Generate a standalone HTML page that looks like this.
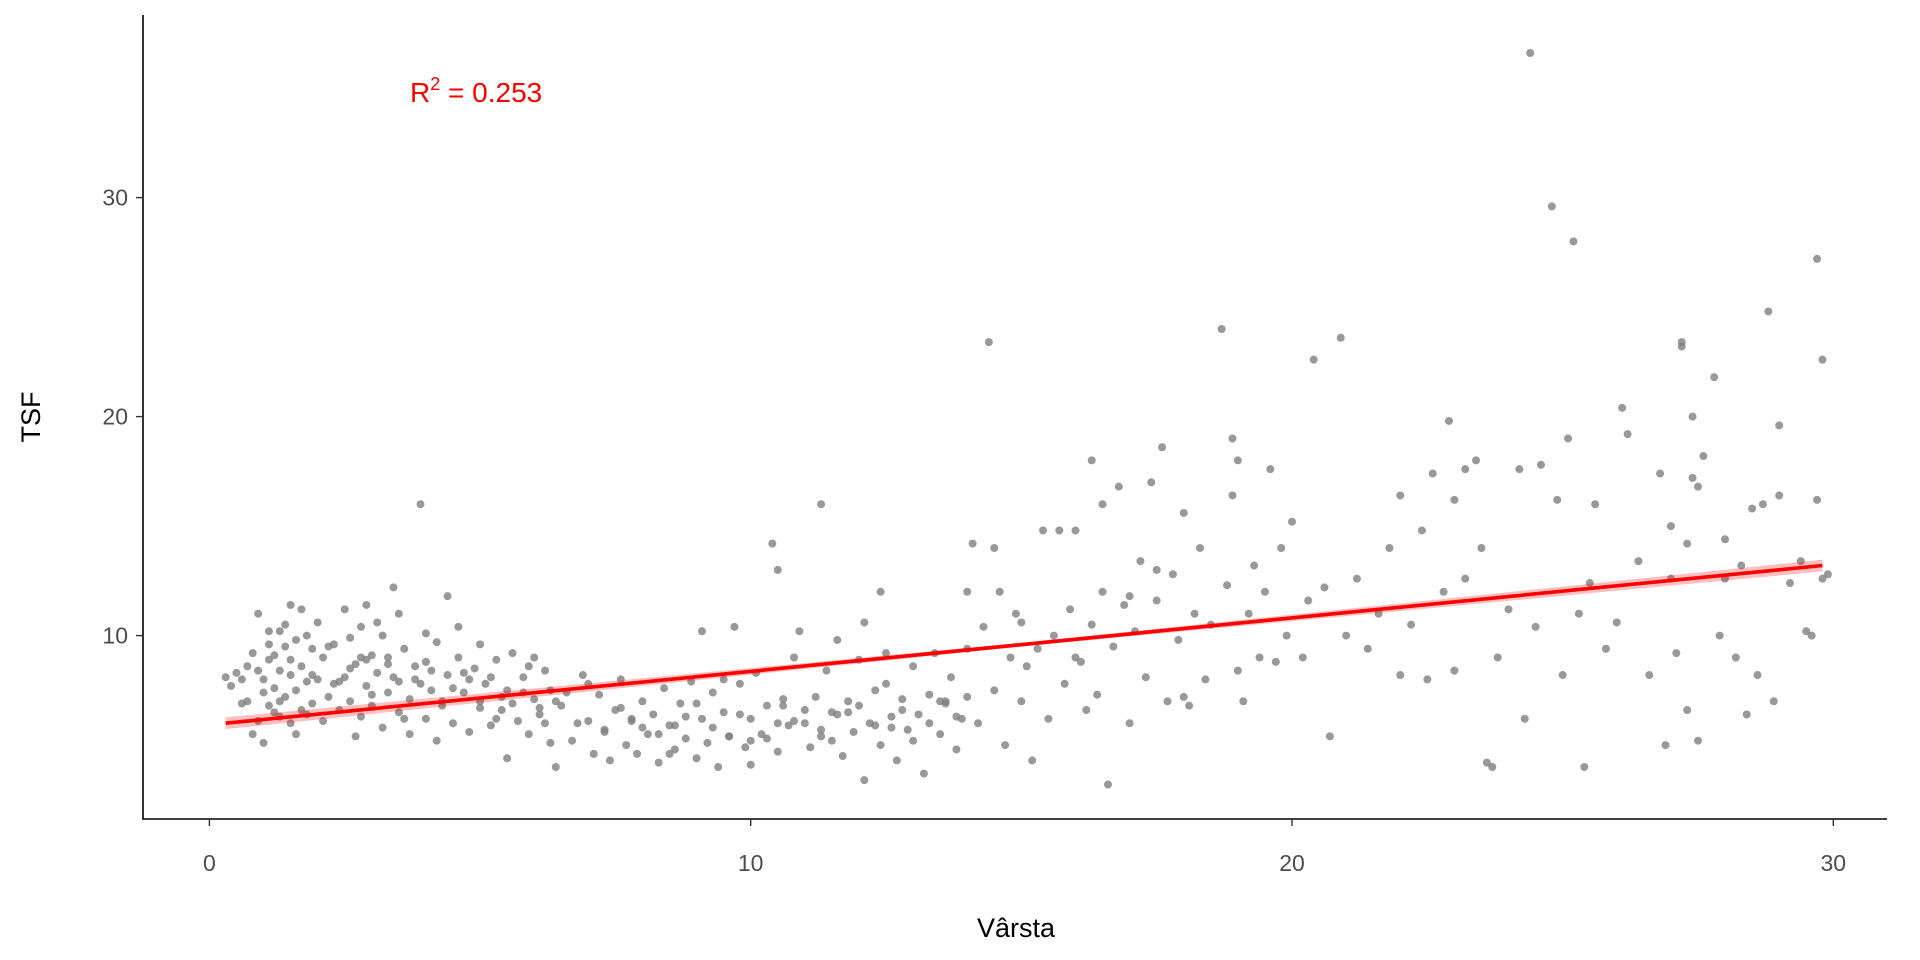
<!DOCTYPE html>
<html><head><meta charset="utf-8"><title>TSF vs Vârsta</title>
<style>
html,body{margin:0;padding:0;background:#fff;}
svg{display:block;font-family:"Liberation Sans",Arial,sans-serif;}
</style></head>
<body>
<svg id="chart" width="1920" height="960" viewBox="0 0 1920 960"></svg>
<script>
const xTicks=[0,10,20,30];
const yTicks=[10,20,30];
const ages=[0.3,0.5,0.6,0.7,0.7,0.8,0.8,0.9,0.9,1.0,1.0,1.0,1.1,1.1,1.1,1.2,1.2,1.3,1.3,1.3,1.4,1.4,1.5,1.5,1.5,1.6,1.6,1.6,1.7,1.7,1.8,1.8,1.9,1.9,2.0,2.0,2.1,2.2,2.3,2.4,2.5,2.5,2.6,2.6,2.7,2.7,2.8,2.8,2.9,2.9,3.0,3.0,3.1,3.2,3.2,3.3,3.3,3.4,3.4,3.5,3.5,3.6,3.7,3.7,3.8,3.9,3.9,4.0,4.0,4.1,4.2,4.2,4.3,4.4,4.4,4.5,4.6,4.6,4.7,4.8,4.9,5.0,5.0,5.1,5.2,5.3,5.4,5.5,5.5,5.6,5.7,5.8,5.9,6.0,6.0,6.1,6.2,6.3,6.3,6.4,6.5,
0.4,0.6,1.2,1.8,2.2,2.4,3.1,3.6,4.8,5.3,5.9,6.2,1.4,2.9,4.1,
0.9,1.1,1.3,1.5,1.7,1.9,2.1,2.3,2.6,2.8,3.0,3.3,3.5,3.8,4.0,4.3,4.5,4.7,5.0,5.2,5.4,5.6,5.8,6.1,6.4,
6.6,6.7,6.9,7.0,7.1,7.2,7.3,7.4,7.5,7.6,7.7,7.8,7.9,8.0,8.1,8.2,8.3,8.4,8.5,8.6,8.7,8.8,8.9,9.0,9.1,9.1,9.2,9.3,9.4,9.5,9.6,9.7,9.8,9.9,10.0,10.0,10.1,10.2,10.3,10.4,10.5,10.5,10.6,10.7,10.8,10.9,11.0,11.1,11.2,11.3,11.3,11.4,11.5,11.6,11.7,11.8,11.9,12.0,12.1,12.1,12.2,12.3,12.4,12.4,12.5,12.6,12.7,12.8,12.9,13.0,13.1,13.2,13.3,13.4,13.5,13.6,13.7,13.8,13.9,14.0,
7.0,8.0,8.5,9.0,9.5,10.0,10.5,11.0,11.5,12.0,12.5,13.0,13.5,14.0,14.0,
6.8,7.3,7.8,8.3,8.8,9.3,9.8,10.3,10.8,11.3,11.8,12.3,12.8,13.3,13.8,7.6,8.6,9.6,10.6,11.6,12.6,13.6,
14.1,14.2,14.3,14.4,14.5,14.6,14.7,14.8,14.9,15.0,15.1,15.2,15.3,15.4,15.5,15.6,15.7,15.8,15.9,16.0,16.1,16.2,16.3,16.3,16.4,16.5,16.6,16.7,16.8,16.9,17.0,17.1,17.2,17.3,17.4,17.5,17.6,17.7,17.8,17.9,18.0,18.1,18.2,18.3,18.4,18.5,18.7,18.8,18.9,18.9,19.0,19.1,19.2,19.3,19.4,19.5,19.6,19.7,19.8,19.9,20.0,
14.5,15.0,16.0,17.0,18.0,19.0,17.5,16.5,
20.2,20.3,20.4,20.6,20.7,20.9,21.0,21.2,21.4,21.6,21.8,22.0,22.0,22.2,22.4,22.5,22.6,22.8,22.9,23.0,23.0,23.2,23.2,23.4,23.5,23.6,23.7,23.8,24.0,24.2,24.3,24.4,24.5,24.6,24.8,24.9,25.0,25.1,25.2,25.3,25.4,25.5,25.6,25.8,26.0,26.1,26.2,26.4,26.6,26.8,26.9,27.0,27.0,27.1,27.2,27.2,27.3,27.3,27.4,27.4,27.5,27.5,27.6,27.8,27.9,28.0,28.0,28.2,28.3,28.4,28.5,28.6,28.7,28.8,28.9,29.0,29.0,29.2,29.4,29.5,29.6,29.7,29.7,29.8,29.8,29.9];
const tsf=[8.1,8.3,6.9,8.6,7.0,5.5,9.2,6.1,11.0,5.1,7.4,8.0,6.8,8.9,10.2,7.6,9.1,6.3,8.4,10.2,7.2,9.5,6.0,8.2,11.4,7.5,9.8,5.5,8.6,11.2,6.4,7.9,9.4,6.9,8.0,10.6,6.1,7.2,9.6,6.6,8.1,11.2,7.0,9.9,5.4,8.7,10.4,6.3,7.7,11.4,9.1,6.8,8.3,10.0,5.8,7.4,9.0,12.2,8.1,6.5,11.0,9.4,7.1,5.5,8.6,16.0,7.8,10.1,6.2,8.4,5.2,9.7,7.0,11.8,8.2,6.0,9.0,10.4,7.4,5.6,8.5,6.7,9.6,7.8,5.9,8.9,6.6,4.4,7.5,9.2,6.1,8.1,5.5,7.1,9.0,6.4,8.4,5.1,7.5,4.0,6.8,
7.7,8.0,6.5,10.0,9.5,7.9,10.6,6.2,8.0,6.2,8.6,6.0,10.5,8.9,7.5,
8.4,9.6,7.0,8.9,6.6,8.2,9.0,7.8,8.5,9.0,7.3,8.7,7.9,8.0,8.8,6.8,7.6,8.3,7.0,8.1,7.2,6.9,7.4,6.7,7.0,
7.4,5.2,8.2,6.1,4.6,7.3,5.7,4.3,6.6,8.0,5.0,6.1,4.6,7.0,5.5,6.4,4.2,7.6,5.9,4.8,6.9,5.3,7.9,4.4,10.2,6.2,5.1,7.4,4.0,6.5,5.4,10.4,7.8,4.9,6.2,4.1,8.3,5.5,6.8,14.2,13.0,4.7,7.1,5.9,9.0,10.2,6.0,4.9,7.2,16.0,5.4,8.4,6.5,9.8,4.5,7.0,5.6,8.9,10.6,3.4,6.0,7.5,12.0,5.0,9.2,6.3,4.3,7.1,5.7,8.6,6.4,3.7,7.3,9.2,5.5,6.9,8.1,4.8,6.2,7.2,
7.8,5.8,4.6,6.9,8.0,5.2,6.0,6.6,5.2,6.8,7.8,5.2,7.0,9.4,12.0,
6.0,5.6,6.2,5.5,6.3,5.8,6.4,5.3,6.1,5.7,6.5,5.9,6.6,6.0,6.3,6.7,5.9,5.4,6.8,6.4,5.8,7.0,
14.2,6.0,10.4,23.4,7.5,12.0,5.0,9.0,11.0,7.0,8.6,4.3,9.4,14.8,6.2,10.0,14.8,7.8,11.2,14.8,8.8,6.6,18.0,10.5,7.3,12.0,3.2,9.5,16.8,11.4,6.0,10.2,13.4,8.1,17.0,11.6,18.6,7.0,12.8,9.8,15.6,6.8,11.0,14.0,8.0,10.5,24.0,12.3,19.0,16.4,8.4,7.0,11.0,13.2,9.0,12.0,17.6,8.8,14.0,10.0,15.2,
14.0,10.6,9.0,11.8,7.2,18.0,13.0,16.0,
9.0,11.6,22.6,12.2,5.4,23.6,10.0,12.6,9.4,11.0,14.0,16.4,8.2,10.5,14.8,8.0,17.4,12.0,19.8,16.2,8.4,17.6,12.6,18.0,14.0,4.2,4.0,9.0,11.2,17.6,6.2,36.6,10.4,17.8,29.6,16.2,8.2,19.0,28.0,11.0,4.0,12.4,16.0,9.4,10.6,20.4,19.2,13.4,8.2,17.4,5.0,15.0,12.6,9.2,23.4,23.2,6.6,14.2,20.0,17.2,5.2,16.8,18.2,21.8,10.0,14.4,12.6,9.0,13.2,6.4,15.8,8.2,16.0,24.8,7.0,16.4,19.6,12.4,13.4,10.2,10.0,27.2,16.2,12.6,22.6,12.8];
const fitX=[0.3,29.8];
const fitY=[6.0,13.2];
const r2Label="0.253";

const NS="http://www.w3.org/2000/svg";
const svg=document.getElementById('chart');
const x0px=209.4, xPer=54.13, y0px=854.6, yPer=21.9;
function sx(v){return x0px+v*xPer;}
function sy(v){return y0px-v*yPer;}
function mk(tag,attrs,parent){const e=document.createElementNS(NS,tag);for(const k in attrs)e.setAttribute(k,attrs[k]);(parent||svg).appendChild(e);return e;}

const ax=mk('g',{});


mk('line',{x1:143,y1:15,x2:143,y2:819.5,stroke:'#000','stroke-width':1.6},ax);
mk('line',{x1:142.2,y1:819,x2:1887,y2:819,stroke:'#000','stroke-width':1.6},ax);

xTicks.forEach(t=>{
  const g=mk('g',{});
  
  
  mk('line',{x1:sx(t),y1:819,x2:sx(t),y2:826,stroke:'#333','stroke-width':1.4},g);
  const tx=mk('text',{x:sx(t),y:871,'text-anchor':'middle','font-size':23,fill:'#4d4d4d'},g);
  tx.textContent=t;
});
yTicks.forEach(t=>{
  const g=mk('g',{});
  
  
  mk('line',{x1:136,y1:sy(t),x2:143,y2:sy(t),stroke:'#333','stroke-width':1.4},g);
  const tx=mk('text',{x:128,y:sy(t)+8,'text-anchor':'end','font-size':23,fill:'#4d4d4d'},g);
  tx.textContent=t;
});

const pts=mk('g',{});


for(let i=0;i<ages.length;i++){
  const c=mk('circle',{cx:sx(ages[i]),cy:sy(tsf[i]),r:4,fill:'#7f7f7f','fill-opacity':0.8},pts);
  
  
}

const bx0=fitX[0],bx1=fitX[1],bm=(bx0+bx1)/2;
let up=[],lo=[];
for(let k=0;k<=40;k++){
  const xv=bx0+(bx1-bx0)*k/40;
  const yv=fitY[0]+(fitY[1]-fitY[0])*(xv-bx0)/(bx1-bx0);
  const w=0.09+0.18*Math.abs(xv-bm)/(bx1-bm);
  up.push(sx(xv)+','+sy(yv+w));lo.unshift(sx(xv)+','+sy(yv-w));
}
const band=mk('polygon',{points:up.concat(lo).join(' '),fill:'#ff0000','fill-opacity':0.25});


const ln=mk('line',{x1:sx(fitX[0]),y1:sy(fitY[0]),x2:sx(fitX[1]),y2:sy(fitY[1]),stroke:'#ff0000','stroke-width':3.6});



const r2=mk('text',{x:410,y:102,'font-size':28,fill:'#ff0000'});


r2.innerHTML='R<tspan dy="-12" font-size="18">2</tspan><tspan dy="12"> = '+r2Label+'</tspan>';
const xt=mk('text',{x:1016,y:937,'text-anchor':'middle','font-size':27,fill:'#000'});


xt.textContent='Vârsta';
const yt=mk('text',{x:0,y:0,'text-anchor':'middle','font-size':27,fill:'#000',transform:'translate(40,417) rotate(-90)'});


yt.textContent='TSF';
</script>
</body></html>
